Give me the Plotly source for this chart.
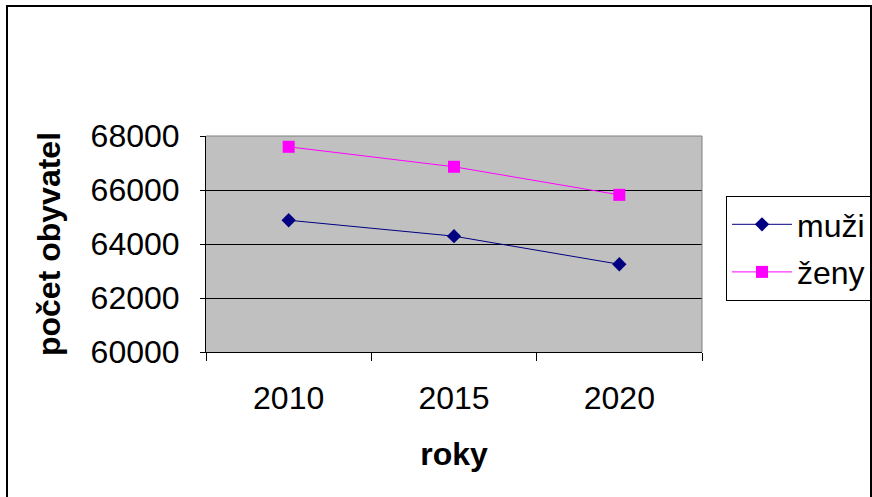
import plotly.graph_objects as go

# data
roky = ['2010', '2015', '2020']
muzi = [64880, 64290, 63250]
zeny = [67600, 66860, 65820]

W, H = 872, 497
L, R, T, B = 206, 702, 136, 352  # plot area in px
pw, ph = R - L, B - T

def px_x(v):
    return (v - L) / pw

def px_y(v):
    return (B - v) / ph

font = 'Arial, Liberation Sans, sans-serif'

fig = go.Figure()
fig.add_trace(go.Scatter(
    x=roky, y=muzi, name='muži', mode='lines+markers',
    line=dict(color='#000080', width=1),
    marker=dict(symbol='diamond', size=11, color='#000080'),
    legendgroup='a',
))
fig.add_trace(go.Scatter(
    x=roky, y=zeny, name='ženy', mode='lines+markers',
    line=dict(color='#FF00FF', width=1),
    marker=dict(symbol='square', size=12, color='#FF00FF'),
    legendgroup='b',
))

fig.update_layout(
    width=W, height=H,
    margin=dict(l=L, r=W - R, t=T, b=H - B, autoexpand=False),
    paper_bgcolor='white',
    plot_bgcolor='#C0C0C0',
    font=dict(family=font, size=32, color='black'),
    showlegend=True,
    legend=dict(
        x=px_x(726), y=px_y(196), xanchor='left', yanchor='top',
        bordercolor='black', borderwidth=1, bgcolor='white',
        itemwidth=60, traceorder='grouped', tracegroupgap=3,
        font=dict(size=32),
    ),
    xaxis=dict(
        type='category', range=[-0.5, 2.5], tickson='boundaries',
        ticks='outside', ticklen=8, tickcolor='black', tickwidth=1,
        showline=True, linecolor='black', linewidth=1,
        showgrid=False, ticklabelstandoff=18,
        title=dict(text='<b>roky</b>', standoff=27, font=dict(size=32)),
    ),
    yaxis=dict(
        range=[60000, 68000], dtick=2000, tickformat='d',
        ticks='outside', ticklen=5, tickcolor='black', tickwidth=1,
        showline=True, linecolor='black', linewidth=1,
        showgrid=True, gridcolor='black', gridwidth=1,
        zeroline=False, ticklabelstandoff=14,
        title=dict(text='<b>počet obyvatel</b>', standoff=20, font=dict(size=32)),
    ),
    shapes=[
        # plot area border top/right (gray)
        dict(type='line', xref='paper', yref='paper', x0=0, x1=1, y0=1, y1=1,
             line=dict(color='#808080', width=1), layer='above'),
        dict(type='line', xref='paper', yref='paper', x0=1, x1=1, y0=0, y1=1,
             line=dict(color='#808080', width=1), layer='above'),
        # outer chart border
        dict(type='rect', xref='paper', yref='paper',
             x0=px_x(7), x1=px_x(871), y0=px_y(505), y1=px_y(6),
             line=dict(color='black', width=2), layer='above'),
    ],
)

fig.write_html('out.html', config={'displayModeBar': False},
               post_script="document.body.style.margin='0';")
